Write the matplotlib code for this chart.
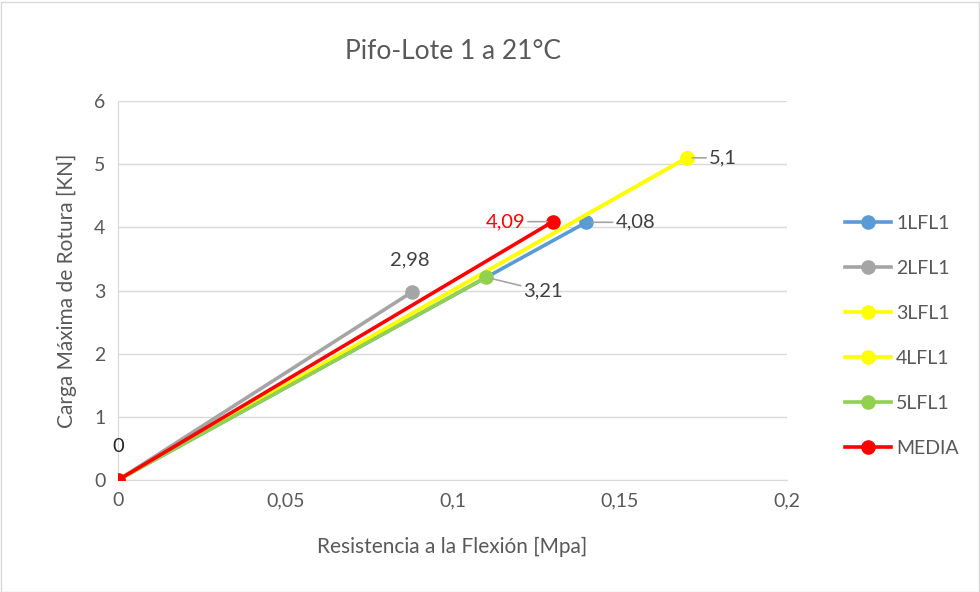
import matplotlib.pyplot as plt
from matplotlib.patches import Rectangle

plt.rcParams['font.family'] = ['Lato', 'DejaVu Sans']

series = ['1LFL1', '2LFL1', '3LFL1', '4LFL1', '5LFL1', 'MEDIA']
colors = ['#5b9bd5', '#a5a5a5', '#ffff00', '#ffff00', '#92d050', '#ff0000']
x_vals = [[0, 0.14], [0, 0.088], [0, 0.17], [0, 0.17], [0, 0.11], [0, 0.13]]
y_vals = [[0, 4.08], [0, 2.98], [0, 5.1], [0, 5.1], [0, 3.21], [0, 4.09]]

fig = plt.figure(figsize=(9.8, 5.92), dpi=100)
ax = fig.add_axes([118 / 980, 1 - 480 / 592, (787 - 118) / 980, (480 - 101) / 592])

for name, c, xs, ys in zip(series, colors, x_vals, y_vals):
    ax.plot(xs, ys, color=c, lw=2.6, marker='o', ms=9.5, label=name, zorder=3)

txt = '#404040'
ax.set_xlim(0, 0.2)
ax.set_ylim(0, 6)
ax.set_xticks([0, 0.05, 0.1, 0.15, 0.2])
ax.set_xticklabels(['0', '0,05', '0,1', '0,15', '0,2'])
ax.set_yticks(range(7))
ax.tick_params(length=0, labelsize=14, colors='#595959', pad=9)
ax.grid(axis='y', color='#d9d9d9', lw=1)
ax.set_axisbelow(True)
for s in ['top', 'right']:
    ax.spines[s].set_visible(False)
for s in ['left', 'bottom']:
    ax.spines[s].set_color('#d9d9d9')

ax.set_title('Pifo-Lote 1 a 21°C', fontsize=19, color='#595959', pad=30)
ax.set_xlabel('Resistencia a la Flexión [Mpa]', fontsize=15, color='#595959', labelpad=20)
ax.set_ylabel('Carga Máxima de Rotura [KN]', fontsize=15, color='#595959', labelpad=12)

fmt = lambda v: str(v).replace('.', ',')
ax.annotate('0', (0, 0), xytext=(0, 24), textcoords='offset points', ha='center',
            va='center', fontsize=14.5, color='#262626')
ax.annotate(fmt(y_vals[1][1]), (x_vals[1][1], y_vals[1][1]), xytext=(-2, 23),
            textcoords='offset points', ha='center', va='center', fontsize=14.5, color=txt)
lead = dict(arrowstyle='-', color='#a5a5a5', lw=1.2, shrinkA=0, shrinkB=4)
offsets = {0: (21, 0), 2: (16, 0), 4: (27, -10)}
for i, off in offsets.items():
    ax.annotate(fmt(y_vals[i][1]), (x_vals[i][1], y_vals[i][1]), xytext=off,
                textcoords='offset points', ha='left', va='center', fontsize=14.5,
                color=txt, arrowprops=lead)
ax.annotate(fmt(y_vals[5][1]), (x_vals[5][1], y_vals[5][1]), xytext=(-20, 0),
            textcoords='offset points', ha='right', va='center', fontsize=14.5,
            color='#ff0000', arrowprops=lead)

ax.legend(loc='center left', bbox_to_anchor=(1.06, 0.38), frameon=False,
          fontsize=14, labelcolor='#595959', labelspacing=1.44, handlelength=2.4,
          handletextpad=0.25)

fig.patches.append(Rectangle((0.5 / 980, 0.5 / 592), 978 / 980, 590 / 592,
                             transform=fig.transFigure, fill=False, ec='#d9d9d9', lw=1))
fig.savefig('out.png', dpi=100)
